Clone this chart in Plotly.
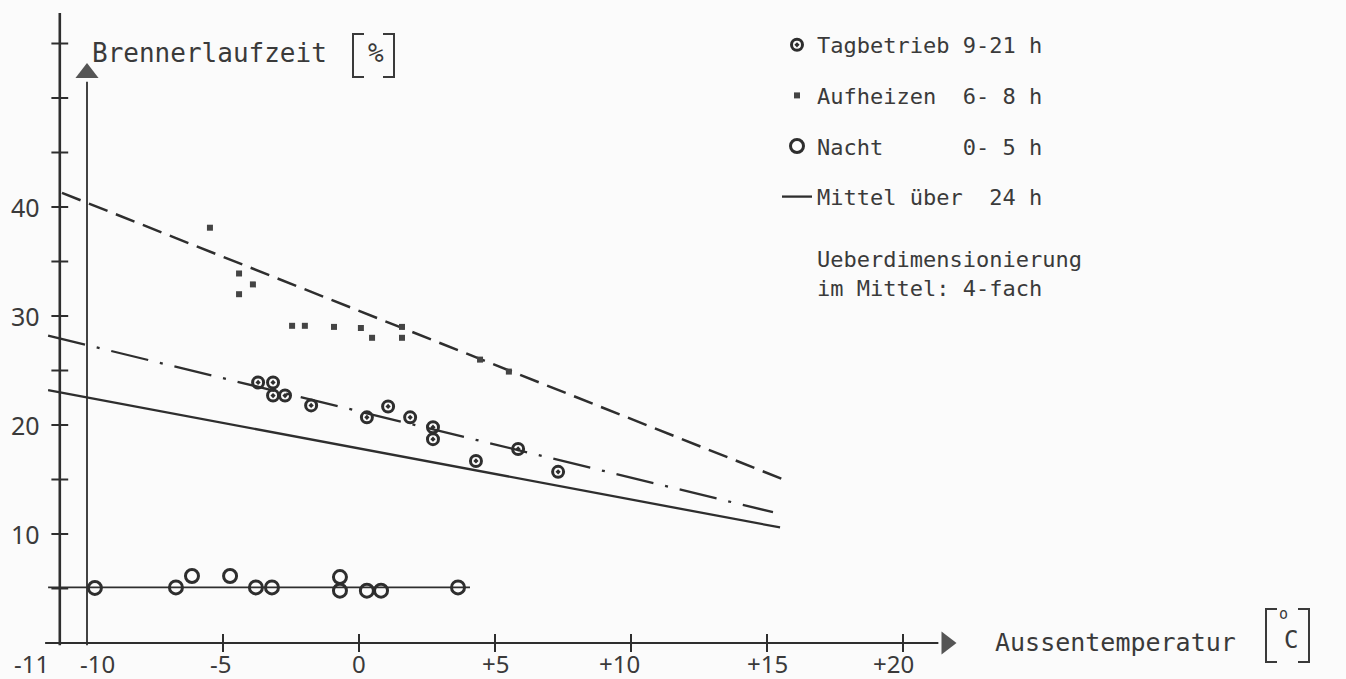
import plotly.graph_objects as go

# ---------------- data ----------------
# Tagbetrieb 9-21 h  (circle with dot)
tag_temp = [-3.71, -3.16, -3.16, -2.72, -1.76, 0.29, 1.07, 1.88, 2.72, 2.72, 4.30, 5.85, 7.32]
tag_pct = [23.9, 23.9, 22.7, 22.7, 21.8, 20.7, 21.7, 20.7, 19.8, 18.7, 16.7, 17.8, 15.7]

# Aufheizen 6-8 h  (small squares)
auf_temp = [-5.48, -4.41, -3.90, -4.41, -2.46, -1.99, -0.92, 0.07, 0.48, 1.58, 1.58, 4.45, 5.51]
auf_pct = [38.1, 33.9, 32.9, 32.0, 29.1, 29.1, 29.0, 28.9, 28.0, 29.0, 28.0, 26.0, 24.9]

# Nacht 0-5 h  (open circles)
nacht_temp = [-9.71, -6.73, -6.14, -4.74, -3.79, -3.20, -0.70, -0.70, 0.29, 0.81, 3.64]
nacht_pct = [5.05, 5.1, 6.15, 6.15, 5.1, 5.1, 6.05, 4.8, 4.8, 4.8, 5.1]

# regression lines
auf_line_temp = [-10.92, 15.66]
auf_line_pct = [41.3, 14.95]
tag_line_temp = [-11.43, 15.22]
tag_line_pct = [28.2, 12.0]
mittel_line_temp = [-11.43, 15.48]
mittel_line_pct = [23.2, 10.6]
nacht_line_temp = [-11.43, 4.08]
nacht_line_pct = [5.1, 5.1]

# axes
temp_ticks = [-11, -10, -5, 0, 5, 10, 15, 20]
temp_tick_labels = ["-11", "-10", "-5", "0", "+5", "+10", "+15", "+20"]
temp_label_shift = [-28, 10, -3, 0, 0, -12, 0, -10]
pct_ticks = [10, 20, 30, 40]
pct_tick_labels = ["10", "20", "30", "40"]
pct_minor_ticks = [5, 10, 15, 20, 25, 30, 35, 40, 45, 50, 55]
temp_minor_ticks = [-5, 0, 5, 10, 15, 20]

# ---------------- figure ----------------
W, H = 1346, 679
PX0, SX = 359.0, 27.2      # pixel of 0 degC, px per degC
PY0, SY = 643.0, 10.9      # pixel of 0 %, px per %
xr = [(0 - PX0) / SX, (W - PX0) / SX]
yr = [(PY0 - H) / SY, PY0 / SY]

INK = "#2e2e2e"
TXT = "#3a3a3a"
MONO = "DejaVu Sans Mono"
SANS = "Noto Sans"

fig = go.Figure()

# axis lines
fig.add_trace(go.Scatter(x=[-11, -11], y=[-0.2, 57.8], mode="lines",
                         line=dict(color=INK, width=2.6), showlegend=False, hoverinfo="skip"))
fig.add_trace(go.Scatter(x=[-10, -10], y=[-0.2, 51.5], mode="lines",
                         line=dict(color=INK, width=1.8), showlegend=False, hoverinfo="skip"))
fig.add_trace(go.Scatter(x=[-11.54, 21.3], y=[0, 0], mode="lines",
                         line=dict(color=INK, width=2.0), showlegend=False, hoverinfo="skip"))
# arrow heads
fig.add_trace(go.Scatter(x=[-10], y=[52.3], mode="markers",
                         marker=dict(symbol="triangle-up", size=20, color="#555555",
                                     line=dict(width=0)),
                         showlegend=False, hoverinfo="skip"))
fig.add_trace(go.Scatter(x=[21.6], y=[0], mode="markers",
                         marker=dict(symbol="triangle-right", size=20, color="#555555",
                                     line=dict(width=0)),
                         showlegend=False, hoverinfo="skip"))
# tick marks
fig.add_trace(go.Scatter(x=[-11] * len(pct_minor_ticks), y=pct_minor_ticks, mode="markers",
                         marker=dict(symbol="line-ew", size=12, line=dict(color=INK, width=2)),
                         showlegend=False, hoverinfo="skip"))
fig.add_trace(go.Scatter(x=temp_minor_ticks, y=[0] * len(temp_minor_ticks), mode="markers",
                         marker=dict(symbol="line-ns", size=13, line=dict(color=INK, width=2)),
                         showlegend=False, hoverinfo="skip"))

# regression lines
fig.add_trace(go.Scatter(x=auf_line_temp, y=auf_line_pct, mode="lines",
                         line=dict(color=INK, width=2.5, dash="20px,9px"),
                         showlegend=False, hoverinfo="skip"))
fig.add_trace(go.Scatter(x=tag_line_temp, y=tag_line_pct, mode="lines",
                         line=dict(color=INK, width=2.3, dash="38px,12px,3px,12px"),
                         showlegend=False, hoverinfo="skip"))
fig.add_trace(go.Scatter(x=nacht_line_temp, y=nacht_line_pct, mode="lines",
                         line=dict(color=INK, width=1.8),
                         showlegend=False, hoverinfo="skip"))

# data points + legend
fig.add_trace(go.Scatter(x=tag_temp, y=tag_pct, mode="markers", name="Tagbetrieb\u00a09-21\u00a0h",
                         legendgroup="a",
                         marker=dict(symbol="circle-open-dot", size=11, color=INK,
                                     line=dict(color=INK, width=3))))
fig.add_trace(go.Scatter(x=auf_temp, y=auf_pct, mode="markers",
                         name="Aufheizen\u00a0\u00a06-\u00a08\u00a0h", legendgroup="b",
                         marker=dict(symbol="square", size=6, color="#444444")))
fig.add_trace(go.Scatter(x=nacht_temp, y=nacht_pct, mode="markers",
                         name="Nacht\u00a0\u00a0\u00a0\u00a0\u00a0\u00a00-\u00a05\u00a0h",
                         legendgroup="c",
                         marker=dict(symbol="circle-open", size=13, color=INK,
                                     line=dict(color=INK, width=3))))
fig.add_trace(go.Scatter(x=mittel_line_temp, y=mittel_line_pct, mode="lines",
                         name="Mittel\u00a0über\u00a0\u00a024\u00a0h", legendgroup="d",
                         line=dict(color=INK, width=2.3)))

annotations = []
for t, lab, sh in zip(temp_ticks, temp_tick_labels, temp_label_shift):
    annotations.append(dict(x=t, y=0, xref="x", yref="y", text=lab, showarrow=False,
                            xanchor="center", yanchor="top", xshift=sh, yshift=-2,
                            font=dict(family=SANS, size=24, color=TXT)))
for v, lab in zip(pct_ticks, pct_tick_labels):
    annotations.append(dict(x=-11, y=v, xref="x", yref="y", text=lab, showarrow=False,
                            xanchor="right", yanchor="middle", xshift=-18,
                            font=dict(family=SANS, size=25, color=TXT)))


def px(xp):
    return xp / W


def py(yp):
    return 1 - yp / H


# axis titles
annotations.append(dict(x=px(90), y=py(53), xref="paper", yref="paper", text="Brennerlaufzeit",
                        showarrow=False, xanchor="left", yanchor="middle",
                        font=dict(family=MONO, size=26, color=TXT)))
annotations.append(dict(x=px(376), y=py(53), xref="paper", yref="paper", text="%",
                        showarrow=False, xanchor="center", yanchor="middle",
                        font=dict(family=MONO, size=26, color=TXT)))
annotations.append(dict(x=px(993), y=py(642), xref="paper", yref="paper", text="Aussentemperatur",
                        showarrow=False, xanchor="left", yanchor="middle",
                        font=dict(family=MONO, size=25, color=TXT)))
annotations.append(dict(x=px(1283), y=py(614), xref="paper", yref="paper", text="o",
                        showarrow=False, xanchor="center", yanchor="middle",
                        font=dict(family=MONO, size=15, color=TXT)))
annotations.append(dict(x=px(1291), y=py(640), xref="paper", yref="paper", text="C",
                        showarrow=False, xanchor="center", yanchor="middle",
                        font=dict(family=MONO, size=24, color=TXT)))
# note
annotations.append(dict(x=px(815), y=py(274), xref="paper", yref="paper",
                        text="Ueberdimensionierung<br>im Mittel: 4-fach",
                        showarrow=False, xanchor="left", yanchor="middle", align="left",
                        font=dict(family=MONO, size=22, color=TXT)))

# square brackets around units
def bracket(x_stem, x_end, y0, y1):
    return dict(type="path", xref="paper", yref="paper",
                path=f"M {px(x_end)},{py(y0)} L {px(x_stem)},{py(y0)} L {px(x_stem)},{py(y1)} L {px(x_end)},{py(y1)}",
                line=dict(color=TXT, width=2))


shapes = [
    bracket(353, 364, 34, 77),
    bracket(394, 383, 34, 77),
    bracket(1266, 1277, 609, 662),
    bracket(1309, 1298, 609, 662),
]

fig.update_layout(
    width=W, height=H,
    margin=dict(l=0, r=0, t=0, b=0),
    paper_bgcolor="#fbfbfb", plot_bgcolor="#fbfbfb",
    xaxis=dict(range=xr, visible=False, fixedrange=True),
    yaxis=dict(range=yr, visible=False, fixedrange=True),
    showlegend=True,
    legend=dict(x=px(777), y=py(24), xanchor="left", yanchor="top",
                font=dict(family=MONO, size=22, color=TXT),
                bgcolor="rgba(0,0,0,0)", tracegroupgap=19, itemwidth=30),
    annotations=annotations,
    shapes=shapes,
)

fig.write_html("out.html", post_script="document.body.style.margin='0';",
               config={"displayModeBar": False})
